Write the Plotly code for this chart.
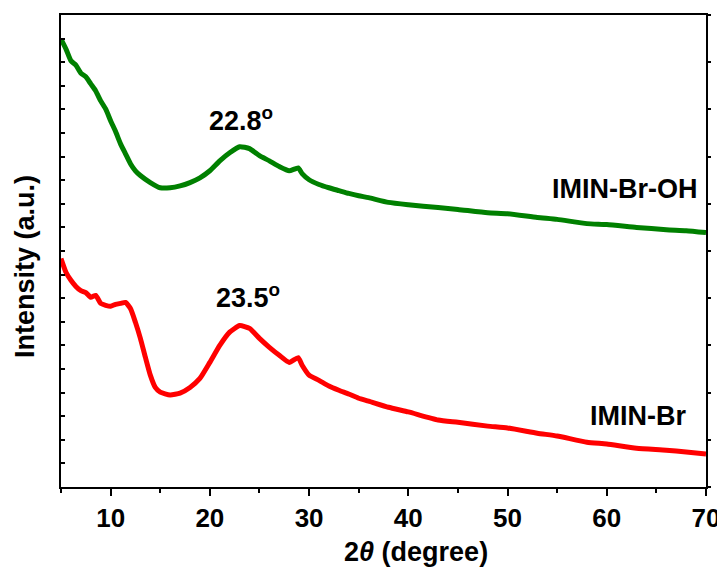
import plotly.graph_objects as go

# Data (2theta in degrees, intensity in arbitrary units)
two_theta_oh = [5, 5.5, 6, 6.5, 7, 7.5, 8, 8.5, 9, 9.5, 10, 10.5, 11, 11.5, 12, 12.5, 13, 14, 15,
                16, 17, 18, 19, 20, 21, 22, 23, 24, 25, 26, 27, 28, 28.9, 29.3, 30, 31, 32, 33,
                34, 35, 36, 38, 40, 43, 45, 48, 50, 53, 55, 58, 60, 63, 66, 68, 70]
intensity_oh = [94.9, 92.8, 90.3, 89.4, 87.7, 86.9, 85.4, 83.9, 81.8, 80.1, 77.6, 75.3, 72.7,
                70.6, 68.5, 67.0, 66.0, 64.5, 63.4, 63.4, 63.8, 64.5, 65.5, 67.0, 69.1, 70.8,
                72.1, 71.7, 70.2, 69.1, 67.9, 67.0, 67.6, 66.4, 65.1, 64.1, 63.4, 62.8, 62.2,
                61.7, 61.3, 60.3, 59.8, 59.2, 58.8, 58.1, 57.9, 57.1, 56.7, 55.8, 55.6, 55.0,
                54.5, 54.3, 53.9]

two_theta_br = [5, 5.5, 6, 6.5, 7, 7.5, 8, 8.5, 9, 9.5, 10, 10.5, 11, 11.5, 12, 12.5, 13, 13.5,
                14, 14.5, 15, 16, 17, 18, 19, 20, 21, 22, 23, 24, 25, 26, 27, 28, 28.9, 29.3,
                30, 31, 32, 33, 34, 35, 36, 38, 40, 43, 45, 48, 50, 53, 55, 58, 60, 63, 66, 68, 70]
intensity_br = [48.4, 45.5, 43.8, 42.5, 41.6, 41.2, 40.2, 40.6, 38.9, 38.5, 38.3, 38.7, 38.9,
                39.1, 37.8, 34.9, 31.5, 27.5, 23.7, 21.1, 20.1, 19.5, 19.9, 21.1, 23.0, 26.4,
                30.0, 32.8, 34.2, 33.6, 31.5, 29.6, 27.9, 26.4, 27.4, 25.8, 23.7, 22.6, 21.4,
                20.5, 19.7, 18.8, 18.2, 16.9, 15.9, 14.2, 13.7, 12.9, 12.5, 11.4, 10.8, 9.5,
                9.1, 8.2, 7.8, 7.4, 7.0]

x_ticks = [10, 20, 30, 40, 50, 60, 70]
series_names = ["IMIN-Br-OH", "IMIN-Br"]
peak_labels = ["22.8", "23.5"]

FONT = "Liberation Sans, Arial, sans-serif"

fig = go.Figure()
fig.add_trace(go.Scatter(x=two_theta_oh, y=intensity_oh, mode="lines", name=series_names[0],
                         line=dict(color="#008000", width=5, shape="spline", smoothing=0.5)))
fig.add_trace(go.Scatter(x=two_theta_br, y=intensity_br, mode="lines", name=series_names[1],
                         line=dict(color="#FF0000", width=5, shape="spline", smoothing=0.5)))
# invisible trace for right-side ticks
fig.add_trace(go.Scatter(x=[5], y=[0], yaxis="y2", mode="markers",
                         marker=dict(opacity=0), showlegend=False, hoverinfo="skip"))

bold = dict(family=FONT, size=26, color="black", weight="bold")

# the page body adds an 8px offset, so the figure is 8px smaller and left/top margins shifted
fig.update_layout(
    width=717, height=565,
    margin=dict(l=53, r=19, t=7, b=86, autoexpand=False),
    paper_bgcolor="white", plot_bgcolor="white",
    showlegend=False,
    xaxis=dict(range=[5, 70], tickvals=x_ticks, ticks="outside", ticklen=7, tickwidth=2,
               tickcolor="black", showline=True, linecolor="black", linewidth=2, mirror=True,
               showgrid=False, zeroline=False, tickfont=bold,
               minor=dict(dtick=5, ticks="outside", ticklen=4, tickwidth=2, tickcolor="black",
                          showgrid=False)),
    yaxis=dict(range=[0, 100], dtick=5, ticks="inside", ticklen=4, tickwidth=1.5,
               tickcolor="black", showticklabels=False, showline=True, linecolor="black",
               linewidth=2, mirror=True, showgrid=False, zeroline=False),
    yaxis2=dict(range=[0, 100], dtick=10, overlaying="y", side="right", ticks="outside",
                ticklen=4, tickwidth=1.5, tickcolor="black", showticklabels=False,
                showline=False, showgrid=False, zeroline=False),
)

ann_font = dict(family=FONT, size=27, color="black", weight="bold")
fig.add_annotation(x=23.1, y=78.0, text=peak_labels[0] + "<sup>o</sup>", showarrow=False,
                   font=ann_font, xanchor="center", yanchor="middle")
fig.add_annotation(x=23.8, y=40.4, text=peak_labels[1] + "<sup>o</sup>", showarrow=False,
                   font=ann_font, xanchor="center", yanchor="middle")
fig.add_annotation(x=69.3, y=63.2, text=series_names[0], showarrow=False,
                   font=ann_font, xanchor="right", yanchor="middle")
fig.add_annotation(x=68.2, y=15.0, text=series_names[1], showarrow=False,
                   font=ann_font, xanchor="right", yanchor="middle")

fig.add_annotation(xref="paper", yref="paper", x=0.551, y=-0.138,
                   text="2<i>θ</i> (degree)", showarrow=False,
                   font=dict(family=FONT, size=27, color="black", weight="bold"),
                   xanchor="center", yanchor="middle")
fig.add_annotation(xref="paper", yref="paper", x=-0.056, y=0.468,
                   text="Intensity (a.u.)", showarrow=False, textangle=-90,
                   font=dict(family=FONT, size=27, color="black", weight="bold"),
                   xanchor="center", yanchor="middle")

fig.write_html("out.html")
